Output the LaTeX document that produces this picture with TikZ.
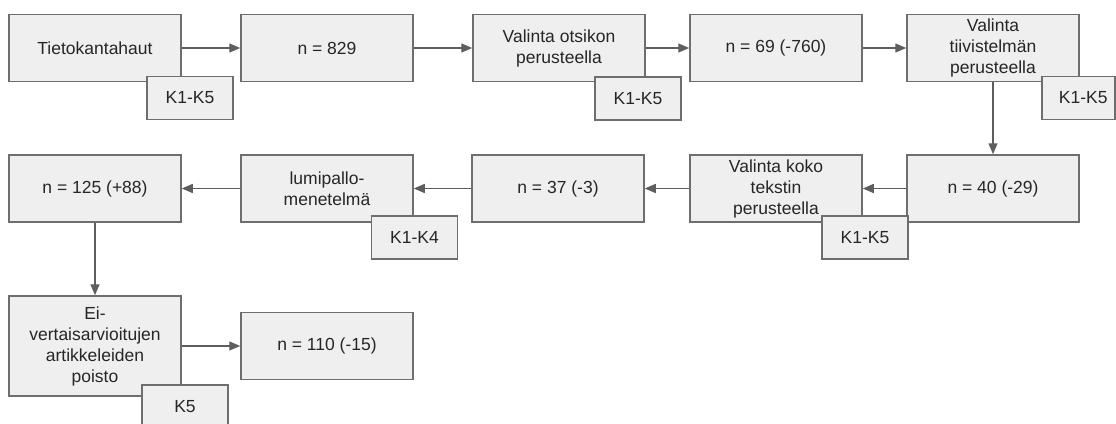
\documentclass[tikz,border=0pt]{standalone}
\usepackage{fontspec}
\setmainfont{Liberation Sans}
\usetikzlibrary{arrows.meta}
\definecolor{boxfill}{HTML}{EFEFEF}
\definecolor{boxline}{HTML}{6E6E6E}
\definecolor{arrowline}{HTML}{5E5E5E}

\begin{document}
\begin{tikzpicture}[x=1pt,y=-1pt,-{Triangle[length=11pt,width=9pt]},draw=arrowline,line width=1.4pt]
    \tikzstyle{box}=[draw=boxline,fill=boxfill,line width=1.5pt,text=black!85,minimum width=172pt,minimum height=67pt,inner sep=2pt,align=center,font=\fontsize{17.5}{21}\selectfont]
    \tikzstyle{tag}=[box,minimum width=86pt,minimum height=43pt]

    \useasboundingbox (0,0) rectangle (1116,423);
    \clip (0,0) rectangle (1116,423);

    % First row, left to right
    \foreach \name/\x/\txt in {1/95/Tietokantahaut, 2/327/{n = 829}, 3/559/{Valinta otsikon\\perusteella}, 4/776/{n = 69 (-760)}, 5/993/{Valinta\\tiivistelmän\\perusteella}}
        \node[box] (R1-\name) at (\x,48) {\txt};

    % Second row, right to left
    \foreach \name/\x/\txt in {1/993/{n = 40 (-29)}, 2/776/{Valinta koko\\tekstin\\perusteella}, 3/558/{n = 37 (-3)}, 4/327/{lumipallo-\\menetelmä}, 5/95/{n = 125 (+88)}}
        \node[box] (R2-\name) at (\x,188.5) {\txt};

    % Third row
    \node[box,minimum height=100pt] (R3-1) at (95,346) {Ei-\\vertaisarvioitujen\\artikkeleiden\\poisto};
    \node[box] (R3-2) at (327,346) {n = 110 (-15)};

    % Connect the steps
    \foreach \source/\dest in {1/2,2/3,3/4,4/5}
        \path (R1-\source) edge (R1-\dest);
    \foreach \source/\dest in {1/2,2/3,3/4,4/5}
        \path (R2-\source) edge (R2-\dest);
    \path (R1-5) edge (R2-1);
    \path (R2-5) edge (R3-1);
    \path (R3-1) edge (R3-2);

    % Criteria tags
    \foreach \name/\x/\y/\txt in {1/190/98/K1-K5, 2/638/98.5/K1-K5, 4/865/237.5/K1-K5, 5/414.5/237.5/K1-K4, 6/185/406.5/K5}
        \node[tag] (T-\name) at (\x,\y) {\txt};
    \node[tag,minimum width=73pt,text width=58pt,inner xsep=7.5pt,align=right] (T-3) at (1078.5,98) {K1-K5};
\end{tikzpicture}
\end{document}
